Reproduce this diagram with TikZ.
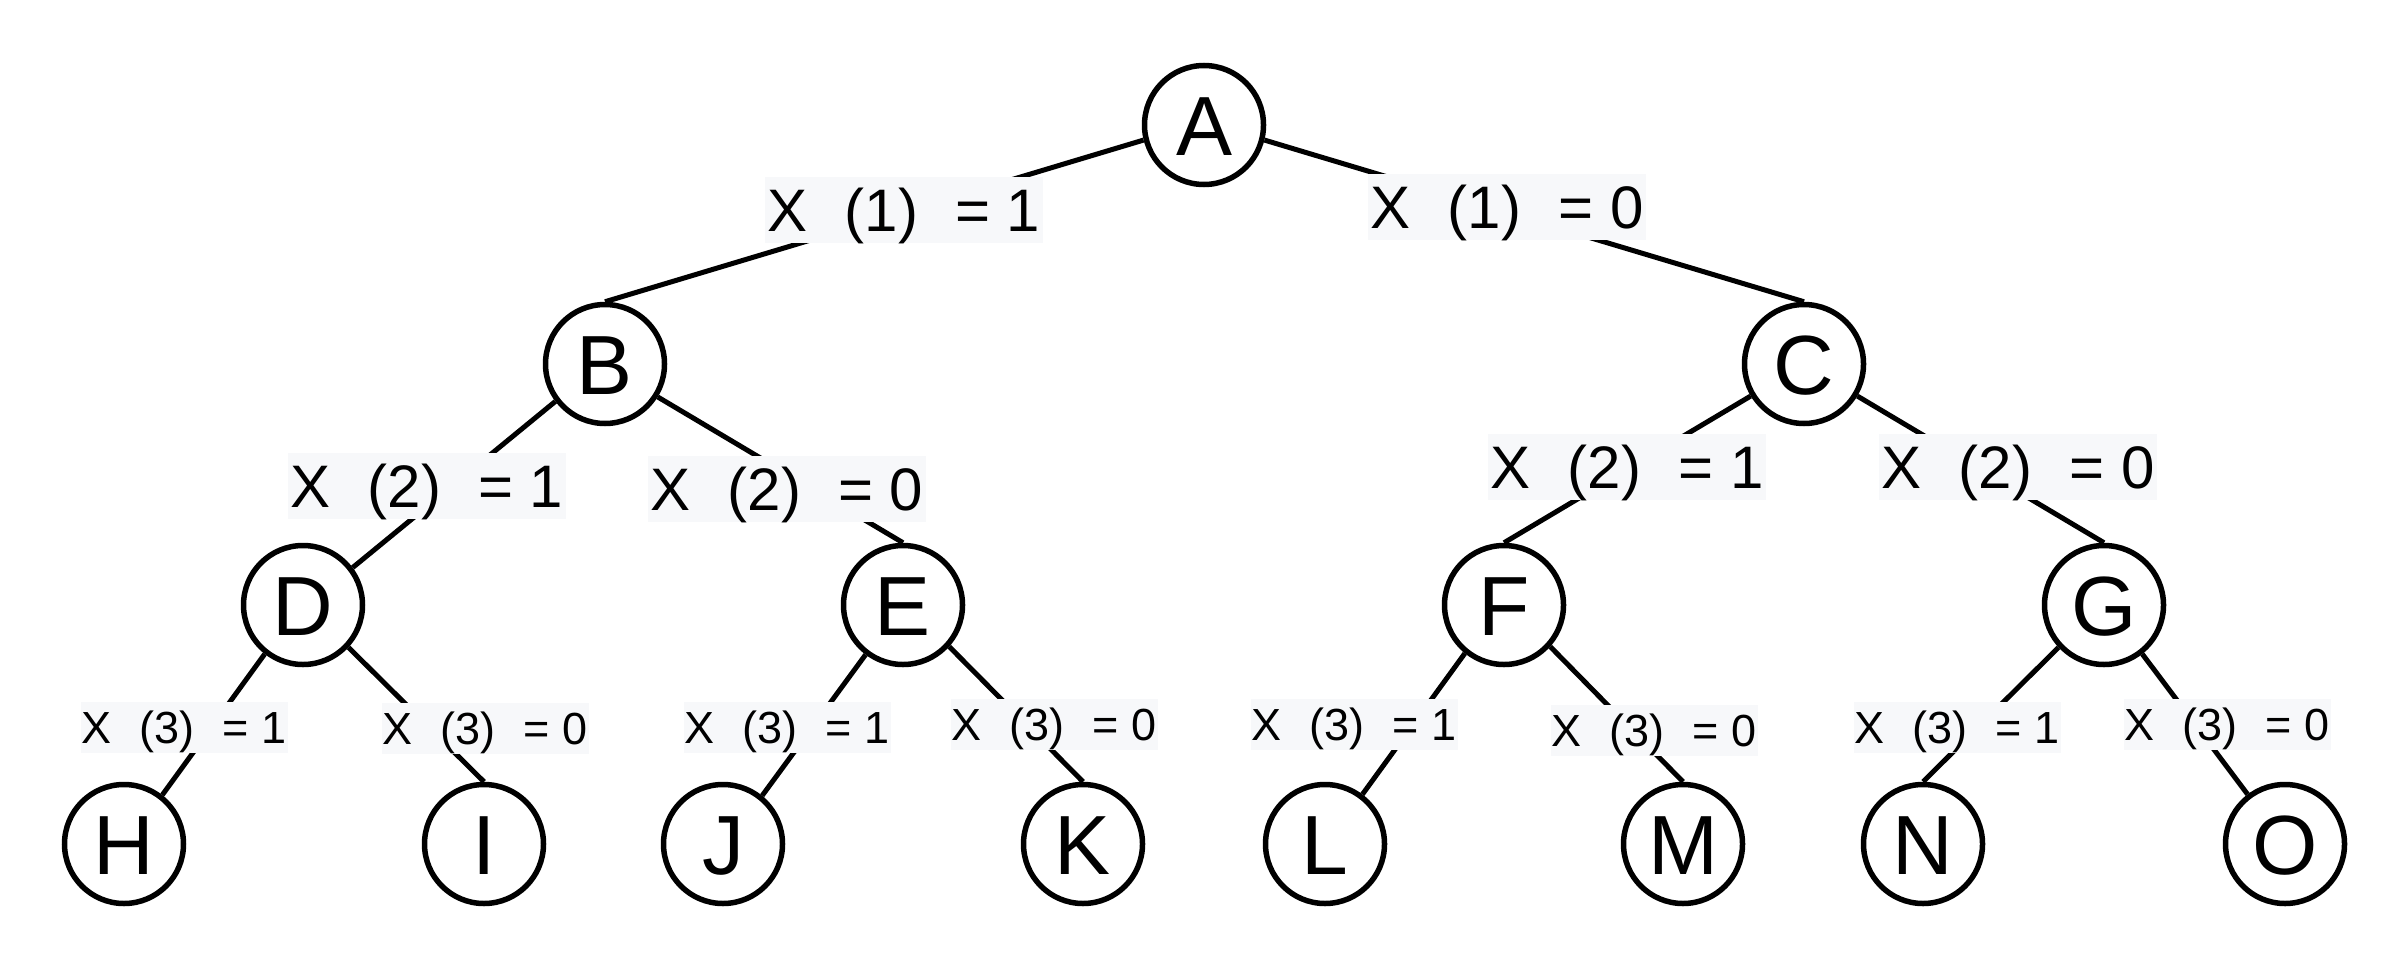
\documentclass[tikz,border=0pt]{standalone}
\usepackage{fontspec}
\setmainfont{Liberation Sans}
\definecolor{lblfill}{RGB}{247,248,250}
\newcommand{\gp}{\hspace{0.62em}}
\begin{document}
\begin{tikzpicture}[x=1pt,y=-1pt,
  tnode/.style={circle,draw=black,line width=5.5pt,minimum size=119pt,inner sep=0pt,
    font=\fontsize{84}{84}\selectfont,text height=60pt,text depth=0pt},
  conn/.style={line width=5pt,black},
  biglbl/.style={fill=lblfill,inner xsep=0pt,inner ysep=0pt,minimum width=278pt,minimum height=66pt,
    text height=43pt,text depth=0pt,font=\fontsize{60}{60}\selectfont},
  smalllbl/.style={fill=lblfill,inner xsep=0pt,inner ysep=0pt,minimum width=207pt,minimum height=51pt,
    text height=32pt,text depth=0pt,font=\fontsize{45}{45}\selectfont}]
\useasboundingbox (0,0) rectangle (2406,966);
% tree nodes
\node[tnode] (A) at (1204,125) {A};
\node[tnode] (B) at (605,364) {B};
\node[tnode] (C) at (1804,364) {C};
\node[tnode] (D) at (303,605) {D};
\node[tnode] (E) at (903,605) {E};
\node[tnode] (F) at (1504,605) {F};
\node[tnode] (G) at (2104,605) {G};
\node[tnode] (H) at (124,844) {H};
\node[tnode] (I) at (484,844) {I};
\node[tnode] (J) at (723,844) {J};
\node[tnode] (K) at (1083,844) {K};
\node[tnode] (L) at (1325,844) {L};
\node[tnode] (M) at (1683,844) {M};
\node[tnode] (N) at (1923,844) {N};
\node[tnode] (O) at (2285,844) {O};
% connectors
\draw[conn] (A.194) -- (B.north);
\draw[conn] (A.-14) -- (C.north);
\draw[conn] (B.217) -- (D.37);
\draw[conn] (B.-32) -- (E.north);
\draw[conn] (C.211) -- (F.north);
\draw[conn] (C.-31) -- (G.north);
\draw[conn] (D.232) -- (H.52);
\draw[conn] (D.-43) -- (I.north);
\draw[conn] (E.233) -- (J.51);
\draw[conn] (E.-42) -- (K.north);
\draw[conn] (F.231) -- (L.53);
\draw[conn] (F.-42) -- (M.north);
\draw[conn] (G.223) -- (N.north);
\draw[conn] (G.-52) -- (O.127);
% labels
\node[biglbl] (lab1) at (904,210) {X\gp(1)\gp= 1};
\node[biglbl] (lab2) at (1507,207) {X\gp(1)\gp= 0};
\node[biglbl] (lab3) at (427,486) {X\gp(2)\gp= 1};
\node[biglbl] (lab4) at (787,489) {X\gp(2)\gp= 0};
\node[biglbl] (lab5) at (1627,467) {X\gp(2)\gp= 1};
\node[biglbl] (lab6) at (2018,467) {X\gp(2)\gp= 0};
\node[smalllbl] (lab7) at (184,727) {X\gp(3)\gp= 1};
\node[smalllbl] (lab8) at (485,728) {X\gp(3)\gp= 0};
\node[smalllbl] (lab9) at (787,727) {X\gp(3)\gp= 1};
\node[smalllbl] (lab10) at (1054,724) {X\gp(3)\gp= 0};
\node[smalllbl] (lab11) at (1354,724) {X\gp(3)\gp= 1};
\node[smalllbl] (lab12) at (1654,730) {X\gp(3)\gp= 0};
\node[smalllbl] (lab13) at (1957,727) {X\gp(3)\gp= 1};
\node[smalllbl] (lab14) at (2227,724) {X\gp(3)\gp= 0};
\end{tikzpicture}
\end{document}
